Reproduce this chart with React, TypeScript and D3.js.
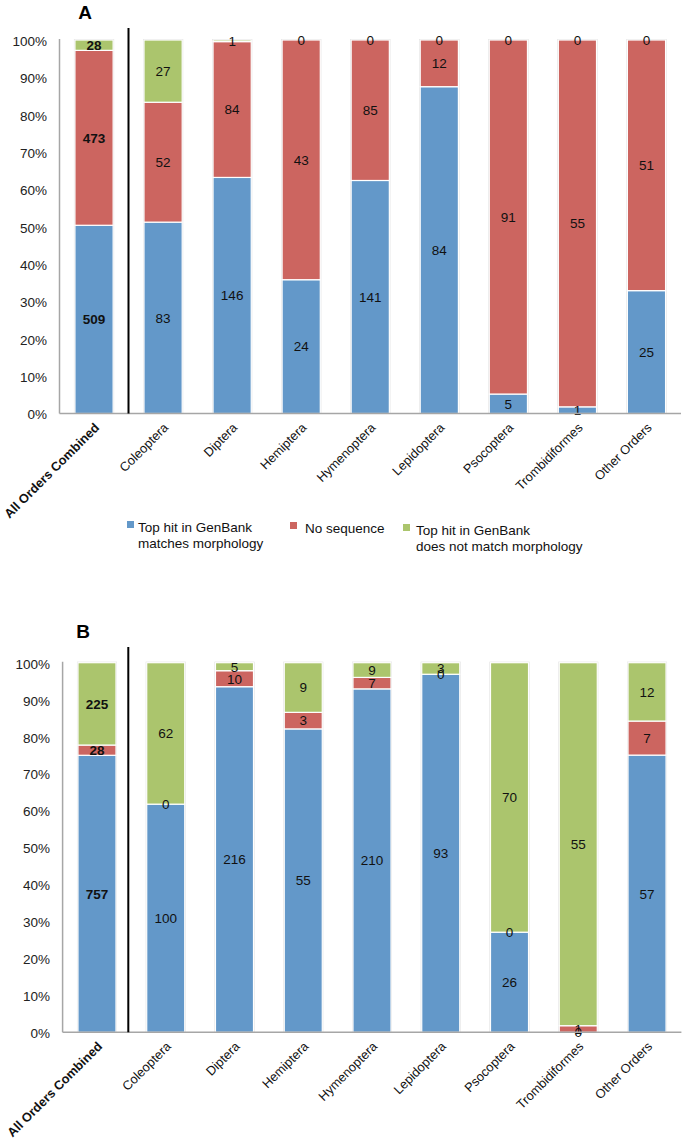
import { useEffect, useRef } from 'react';
import * as d3 from 'd3';

// order categories and counts
const categories = [
    'All Orders Combined', 'Coleoptera', 'Diptera', 'Hemiptera', 'Hymenoptera',
    'Lepidoptera', 'Psocoptera', 'Trombidiformes', 'Other Orders',
];
const seriesKeys = ['match', 'noSeq', 'mismatch'];
const seriesColors = ['#6398c9', '#cc6560', '#abc56d'];
const legendLines = [
    ['Top hit in GenBank', 'matches morphology'],
    ['No sequence'],
    ['Top hit in GenBank', 'does not match morphology'],
];

const matchA = [509, 83, 146, 24, 141, 84, 5, 1, 25];
const noSeqA = [473, 52, 84, 43, 85, 12, 91, 55, 51];
const mismatchA = [28, 27, 1, 0, 0, 0, 0, 0, 0];

const matchB = [757, 100, 216, 55, 210, 93, 26, 0, 57];
const noSeqB = [28, 0, 10, 3, 7, 0, 0, 1, 7];
const mismatchB = [225, 62, 5, 9, 9, 3, 70, 55, 12];

const yTicks = [0, 0.1, 0.2, 0.3, 0.4, 0.5, 0.6, 0.7, 0.8, 0.9, 1];

const FONT = '"Liberation Sans", Arial, sans-serif';

function buildRows(match, noSeq, mismatch) {
    return categories.map((c, i) => ({ cat: c, match: match[i], noSeq: noSeq[i], mismatch: mismatch[i] }));
}

function drawPanel(svg, rows, p) {
    const g = svg.append('g');

    const x = d3.scaleBand()
        .domain(categories)
        .range([p.left, p.right])
        .paddingInner(0.447)
        .paddingOuter(0.2235);

    const y = d3.scaleLinear()
        .domain([0, 1])
        .range([p.bottom, p.top]);

    const stack = d3.stack().keys(seriesKeys).offset(d3.stackOffsetExpand);
    const layers = stack(rows);

    // panel letter
    g.append('text')
        .attr('x', p.letterX)
        .attr('y', p.letterY)
        .attr('text-anchor', 'middle')
        .attr('dominant-baseline', 'central')
        .attr('font-family', FONT)
        .attr('font-weight', 'bold')
        .attr('font-size', 19)
        .text(p.letter);

    // y axis
    const yAxis = d3.axisLeft(y)
        .tickValues(yTicks)
        .tickSize(0)
        .tickPadding(0)
        .tickFormat(d3.format('.0%'));
    const ax = g.append('g')
        .attr('transform', `translate(${p.tickX},0)`)
        .call(yAxis);
    ax.select('.domain').remove();
    ax.selectAll('text')
        .attr('font-family', FONT)
        .attr('font-size', 13.5)
        .attr('fill', '#222')
        .attr('dy', '0.4em');

    // bar outlines (light gray halo)
    g.selectAll('rect.outline')
        .data(rows)
        .join('rect')
        .attr('class', 'outline')
        .attr('x', d => x(d.cat) - 1)
        .attr('y', y(1) - 1)
        .attr('width', x.bandwidth() + 2)
        .attr('height', y(0) - y(1) + 1)
        .attr('fill', '#dcdcdc');

    layers.forEach((layer, li) => {
        g.selectAll(`rect.s${li}`)
            .data(layer)
            .join('rect')
            .attr('class', `s${li}`)
            .attr('x', d => x(d.data.cat))
            .attr('y', d => y(d[1]))
            .attr('width', x.bandwidth())
            .attr('height', d => Math.max(0, y(d[0]) - y(d[1])))
            .attr('fill', seriesColors[li])
            .attr('stroke', d => (d[1] - d[0] > 0 ? '#ffffff' : 'none'))
            .attr('stroke-width', 1.2);
    });

    // value labels
    layers.forEach((layer, li) => {
        g.selectAll(`text.v${li}`)
            .data(layer)
            .join('text')
            .attr('class', `v${li}`)
            .attr('x', d => x(d.data.cat) + x.bandwidth() / 2)
            .attr('y', d => y((d[0] + d[1]) / 2))
            .attr('dy', '0.36em')
            .attr('text-anchor', 'middle')
            .attr('font-family', FONT)
            .attr('font-size', 13.5)
            .attr('font-weight', d => (d.data.cat === categories[0] ? 'bold' : 'normal'))
            .attr('fill', '#111')
            .text(d => d.data[seriesKeys[li]]);
    });

    // axis lines
    g.append('line')
        .attr('x1', p.left).attr('x2', p.left)
        .attr('y1', p.top - 1).attr('y2', p.bottom)
        .attr('stroke', '#a6a6a6').attr('stroke-width', 1.5);
    g.append('line')
        .attr('x1', p.left).attr('x2', p.right)
        .attr('y1', p.bottom).attr('y2', p.bottom)
        .attr('stroke', '#a6a6a6').attr('stroke-width', 1.5);

    // divider between combined and per-order bars
    g.append('line')
        .attr('x1', p.dividerX).attr('x2', p.dividerX)
        .attr('y1', p.dividerTop).attr('y2', p.bottom)
        .attr('stroke', '#000').attr('stroke-width', 2);

    // x labels
    g.selectAll('text.xl')
        .data(categories)
        .join('text')
        .attr('class', 'xl')
        .attr('transform', d => `translate(${x(d) + x.bandwidth() / 2 + 6},${p.bottom + 15}) rotate(-45)`)
        .attr('text-anchor', 'end')
        .attr('font-family', FONT)
        .attr('font-size', 12.8)
        .attr('font-weight', (d, i) => (i === 0 ? 'bold' : 'normal'))
        .attr('fill', '#111')
        .text(d => d);
}

function drawLegend(svg, lg) {
    const g = svg.append('g');
    lg.items.forEach((it, i) => {
        g.append('rect')
            .attr('x', it.x)
            .attr('y', it.y - 6)
            .attr('width', 7)
            .attr('height', 7)
            .attr('fill', seriesColors[i]);
        legendLines[i].forEach((line, j) => {
            g.append('text')
                .attr('x', it.x + it.gap)
                .attr('y', it.y + j * 16.5)
                .attr('dy', '0.35em')
                .attr('font-family', FONT)
                .attr('font-size', 13.5)
                .attr('fill', '#111')
                .text(line);
        });
    });
}

export default function App() {
    const ref = useRef(null);

    useEffect(() => {
        const svg = d3.select(ref.current);
        svg.selectAll('*').remove();

        drawPanel(svg, buildRows(matchA, noSeqA, mismatchA), {
            letter: 'A', letterX: 85, letterY: 12,
            top: 40, bottom: 413.5, left: 59.5, right: 681,
            tickX: 47, dividerX: 128.5, dividerTop: 28,
        });

        drawLegend(svg, {
            items: [
                { x: 127, y: 527, gap: 11 },
                { x: 290, y: 528, gap: 15 },
                { x: 403, y: 530, gap: 13 },
            ],
        });

        drawPanel(svg, buildRows(matchB, noSeqB, mismatchB), {
            letter: 'B', letterX: 83, letterY: 631,
            top: 662.7, bottom: 1032.3, left: 62.6, right: 681.4,
            tickX: 50, dividerX: 128.3, dividerTop: 647,
        });
    }, []);

    return (
        <svg ref={ref} width={685} height={1145}
            style={{ position: 'absolute', left: 0, top: 0, background: '#fff' }} />
    );
}
